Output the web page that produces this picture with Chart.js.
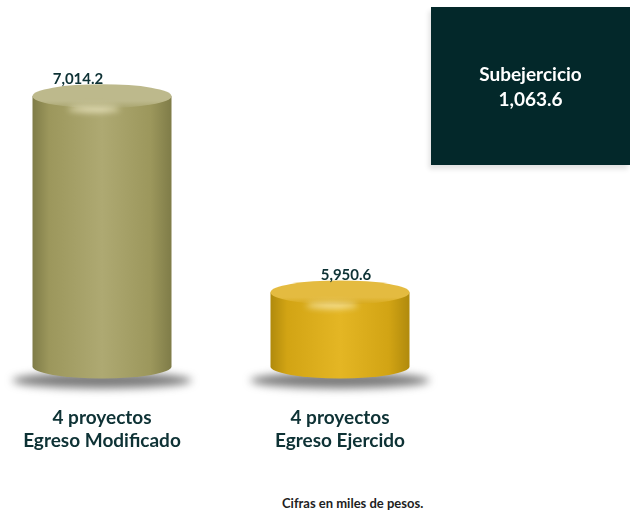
<!DOCTYPE html>
<html>
<head>
<meta charset="utf-8">
<script src="https://cdn.jsdelivr.net/npm/chart.js@4.4.1/dist/chart.umd.min.js"></script>
<style>
  body { margin: 0; width: 630px; height: 514px; background: #fff; position: relative; overflow: hidden; font-family: "Lato", sans-serif; }
  .chart-wrap { position: absolute; left: -17px; top: 0; width: 476px; height: 492px; }
  .sub-box {
    position: absolute; left: 431px; top: 7px; width: 199px; height: 158px;
    background: #03282a; color: #fff; font-weight: bold; font-size: 19px;
    line-height: 25px; display: flex; flex-direction: column; justify-content: center; align-items: center;
    box-shadow: -2px 4px 5px rgba(0, 0, 0, 0.12);
  }
  .note { position: absolute; left: 282px; top: 495px; font-size: 13px; font-weight: bold; color: #1e1e1e; }
</style>
</head>
<body>
<div class="chart-wrap"><canvas id="myChart"></canvas></div>
<div class="sub-box"><div>Subejercicio</div><div>1,063.6</div></div>
<div class="note">Cifras en miles de pesos.</div>
<script>
const categories = [["4 proyectos", "Egreso Modificado"], ["4 proyectos", "Egreso Ejercido"]];
const egresos = [7014.2, 5950.6];
const valueLabels = ["7,014.2", "5,950.6"];
const yMin = 5550;
const yMax = 7535;

// colores de cada cilindro: borde, medio, brillo, tapa
const cylinderColors = [
  { edge: "#7f7c48", mid: "#9c975c", light: "#aea972", top: "#bdb98c", topFront: "#a8a46d" },
  { edge: "#b08a0c", mid: "#d2a414", light: "#e4b624", top: "#e4bb40", topFront: "#d6a81a" }
];
const labelShift = [-24, 6];

const cylinderPlugin = {
  id: "cylinders",
  afterDatasetsDraw(chart) {
    const ctx = chart.ctx;
    const meta = chart.getDatasetMeta(0);
    meta.data.forEach((bar, i) => {
      const c = cylinderColors[i];
      const x = bar.x, top = bar.y, base = bar.base;
      const rx = bar.width / 2, ry = 12;

      // sombra
      ctx.save();
      ctx.filter = "blur(4px)";
      ctx.fillStyle = "rgba(80, 80, 80, 0.75)";
      ctx.beginPath();
      ctx.ellipse(x, base + 14, rx + 20, 8, 0, 0, Math.PI * 2);
      ctx.fill();
      ctx.restore();

      // cuerpo
      const grad = ctx.createLinearGradient(x - rx, 0, x + rx, 0);
      grad.addColorStop(0, c.edge);
      grad.addColorStop(0.12, c.mid);
      grad.addColorStop(0.5, c.light);
      grad.addColorStop(0.85, c.mid);
      grad.addColorStop(1, c.edge);
      ctx.save();
      ctx.fillStyle = grad;
      ctx.beginPath();
      ctx.moveTo(x - rx, top);
      ctx.lineTo(x - rx, base);
      ctx.ellipse(x, base, rx, ry, 0, Math.PI, 0, true);
      ctx.lineTo(x + rx, top);
      ctx.closePath();
      ctx.fill();

      // tapa
      const tg = ctx.createLinearGradient(0, top - ry, 0, top + ry);
      tg.addColorStop(0, c.top);
      tg.addColorStop(0.7, c.top);
      tg.addColorStop(1, c.topFront);
      ctx.fillStyle = tg;
      ctx.beginPath();
      ctx.ellipse(x, top, rx, ry, 0, 0, Math.PI * 2);
      ctx.fill();

      // brillo
      ctx.filter = "blur(3px)";
      ctx.fillStyle = "rgba(255, 250, 220, 0.7)";
      ctx.beginPath();
      ctx.ellipse(x - 8, top + ry + 1, 26, 3, 0, 0, Math.PI * 2);
      ctx.fill();
      ctx.restore();

      // valor
      ctx.save();
      ctx.font = "bold 15px Lato";
      ctx.fillStyle = "#0e3235";
      ctx.textAlign = "center";
      ctx.textBaseline = "alphabetic";
      ctx.fillText(valueLabels[i], x + labelShift[i], top - 12);
      ctx.restore();
    });
  }
};

new Chart(document.getElementById("myChart"), {
  type: "bar",
  data: {
    labels: categories,
    datasets: [{
      data: egresos,
      base: yMin,
      backgroundColor: "rgba(0,0,0,0)",
      barThickness: 139
    }]
  },
  options: {
    responsive: true,
    maintainAspectRatio: false,
    animation: false,
    layout: { padding: 0 },
    plugins: {
      legend: { display: false },
      tooltip: { enabled: false }
    },
    scales: {
      x: {
        grid: { display: false, drawTicks: false },
        border: { display: false },
        ticks: {
          padding: 40,
          color: "#0e3235",
          font: { family: "Lato", size: 19, weight: "bold", lineHeight: 1.2 }
        }
      },
      y: {
        display: false,
        min: yMin,
        max: yMax
      }
    }
  },
  plugins: [cylinderPlugin]
});
</script>
</body>
</html>
